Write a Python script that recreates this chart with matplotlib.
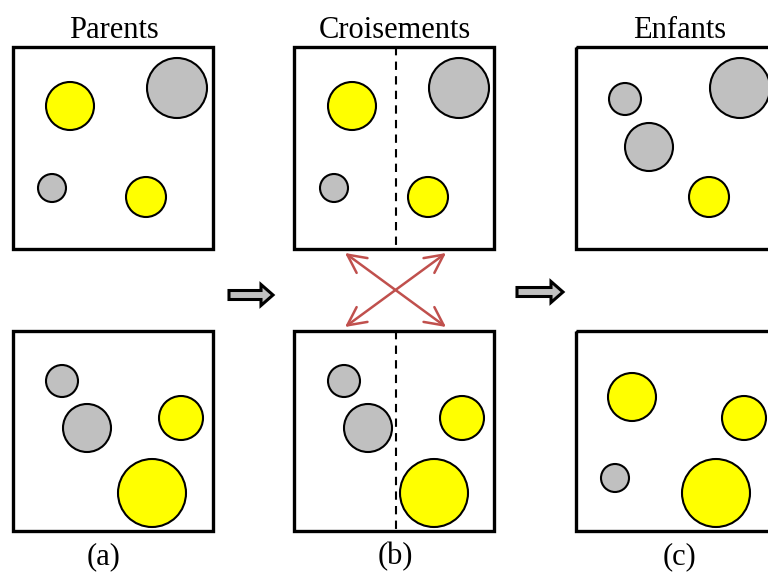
import matplotlib.pyplot as plt
from matplotlib.patches import Rectangle, Circle, FancyArrow

# panel boxes (left x, top y, height) in pixel space, shared width
box_x = [13, 294, 576]
box_y = [47, 331]
box_h = [202, 200]
box_w = 200

titles = ["Parents", "Croisements", "Enfants"]
title_x = [114, 395, 680]
labels = ["(a)", "(b)", "(c)"]
label_x = [104, 395, 680]

# circles: x, y, radius, kind (g = gray, y = yellow)
a_top_x = [70, 177, 52, 146]
a_top_y = [106, 88, 188, 197]
a_top_r = [24, 30, 14, 20]
a_top_k = ["y", "g", "g", "y"]

a_bot_x = [62, 87, 181, 152]
a_bot_y = [381, 428, 418, 493]
a_bot_r = [16, 24, 22, 34]
a_bot_k = ["g", "g", "y", "y"]

b_top_x = [352, 459, 334, 428]
b_top_y = [106, 88, 188, 197]
b_top_r = [24, 30, 14, 20]
b_top_k = ["y", "g", "g", "y"]

b_bot_x = [344, 368, 462, 434]
b_bot_y = [381, 428, 418, 493]
b_bot_r = [16, 24, 22, 34]
b_bot_k = ["g", "g", "y", "y"]

c_top_x = [625, 649, 740, 709]
c_top_y = [99, 147, 88, 197]
c_top_r = [16, 24, 30, 20]
c_top_k = ["g", "g", "g", "y"]

c_bot_x = [632, 744, 615, 716]
c_bot_y = [397, 418, 478, 493]
c_bot_r = [24, 22, 14, 34]
c_bot_k = ["y", "y", "g", "y"]

colors = {"g": "#c0c0c0", "y": "#ffff00"}

fig = plt.figure(figsize=(7.68, 5.72), dpi=100)
ax = fig.add_axes([0, 0, 1, 1])
ax.set_xlim(0, 768)
ax.set_ylim(572, 0)
ax.set_aspect("equal")
ax.axis("off")

for bx in box_x:
    for by, bh in zip(box_y, box_h):
        ax.add_patch(Rectangle((bx, by), box_w, bh, fill=False,
                               edgecolor="black", linewidth=2.4, zorder=3))

groups = [
    (a_top_x, a_top_y, a_top_r, a_top_k),
    (a_bot_x, a_bot_y, a_bot_r, a_bot_k),
    (b_top_x, b_top_y, b_top_r, b_top_k),
    (b_bot_x, b_bot_y, b_bot_r, b_bot_k),
    (c_top_x, c_top_y, c_top_r, c_top_k),
    (c_bot_x, c_bot_y, c_bot_r, c_bot_k),
]
for xs, ys, rs, ks in groups:
    for x, y, r, k in zip(xs, ys, rs, ks):
        ax.add_patch(Circle((x, y), r, facecolor=colors[k],
                            edgecolor="black", linewidth=1.5, zorder=2))

# crossover cut lines
cut_x = 396
for by, bh in zip(box_y, box_h):
    ax.plot([cut_x, cut_x], [by, by + bh], color="black",
            linestyle=(0, (4, 3)), linewidth=1.5, zorder=1)

# crossing red arrows
red = "#c0504d"
for (x0, y0), (x1, y1) in [((345, 253), (446, 327)), ((446, 253), (345, 327))]:
    ax.annotate("", xy=(x1, y1), xytext=(x0, y0),
                arrowprops=dict(arrowstyle="<->,head_length=0.6,head_width=0.3",
                                color=red, lw=1.8, mutation_scale=22,
                                shrinkA=0, shrinkB=0))

# block arrows between columns
for ax0, ay, alen in [(229, 295, 44), (517, 292, 46)]:
    ax.add_patch(FancyArrow(ax0, ay, alen, 0, width=9, head_width=21,
                            head_length=12, length_includes_head=True,
                            facecolor="#c0c0c0", edgecolor="black",
                            linewidth=2.2))

for t, tx in zip(titles, title_x):
    ax.text(tx, 30, t, ha="center", va="center", fontsize=22,
            family="Liberation Serif")
for lab, tx in zip(labels, label_x):
    ax.text(tx, 557, lab, ha="center", va="center", fontsize=22,
            family="Liberation Serif")

fig.savefig("out.png", dpi=100)
